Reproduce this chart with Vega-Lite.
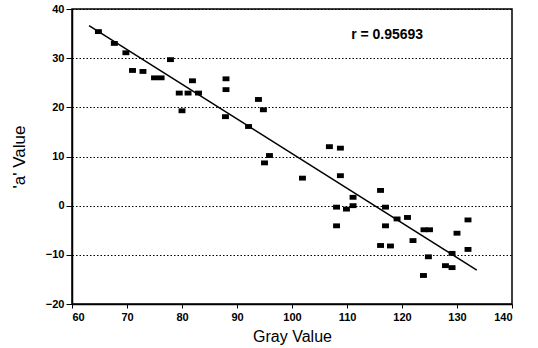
{
  "$schema": "https://vega.github.io/schema/vega-lite/v6.json",
  "width": 440,
  "height": 295,
  "autosize": {"type": "none"},
  "padding": {"left": 72, "top": 9, "right": 26, "bottom": 44},
  "background": "white",
  "config": {
    "view": {"stroke": "black", "strokeWidth": 1.5},
    "axis": {
      "labelFont": "Liberation Sans",
      "labelFontWeight": "bold",
      "labelFontSize": 11,
      "labelColor": "black",
      "titleFont": "Liberation Sans",
      "titleFontWeight": "normal",
      "titleFontSize": 16,
      "titleColor": "black",
      "domainColor": "black",
      "domainWidth": 1.5,
      "tickColor": "black",
      "tickWidth": 1
    }
  },
  "datasets": {
    "pts": [
      {"gray": 64.8, "a": 35.4},
      {"gray": 67.7, "a": 33.0},
      {"gray": 69.8, "a": 31.1},
      {"gray": 71.0, "a": 27.5},
      {"gray": 72.9, "a": 27.3},
      {"gray": 75.0, "a": 26.0},
      {"gray": 76.2, "a": 26.0},
      {"gray": 77.9, "a": 29.7},
      {"gray": 79.5, "a": 22.9},
      {"gray": 81.1, "a": 22.9},
      {"gray": 83.0, "a": 22.9},
      {"gray": 81.9, "a": 25.4},
      {"gray": 80.0, "a": 19.3},
      {"gray": 88.0, "a": 25.8},
      {"gray": 88.0, "a": 23.6},
      {"gray": 87.9, "a": 18.1},
      {"gray": 93.9, "a": 21.6},
      {"gray": 94.8, "a": 19.5},
      {"gray": 92.1, "a": 16.1},
      {"gray": 95.0, "a": 8.7},
      {"gray": 95.9, "a": 10.2},
      {"gray": 101.9, "a": 5.6},
      {"gray": 106.8, "a": 12.0},
      {"gray": 108.8, "a": 11.7},
      {"gray": 108.8, "a": 6.1},
      {"gray": 116.1, "a": 3.1},
      {"gray": 111.1, "a": 1.7},
      {"gray": 108.1, "a": -0.3},
      {"gray": 109.9, "a": -0.7},
      {"gray": 111.1, "a": 0.0},
      {"gray": 117.0, "a": -0.3},
      {"gray": 108.1, "a": -4.1},
      {"gray": 117.0, "a": -4.1},
      {"gray": 119.1, "a": -2.7},
      {"gray": 121.0, "a": -2.4},
      {"gray": 132.0, "a": -2.9},
      {"gray": 124.0, "a": -4.9},
      {"gray": 125.0, "a": -4.9},
      {"gray": 130.0, "a": -5.6},
      {"gray": 122.0, "a": -7.1},
      {"gray": 116.1, "a": -8.1},
      {"gray": 117.9, "a": -8.2},
      {"gray": 132.0, "a": -8.9},
      {"gray": 124.8, "a": -10.4},
      {"gray": 127.9, "a": -12.2},
      {"gray": 129.1, "a": -12.6},
      {"gray": 129.1, "a": -9.7},
      {"gray": 123.9, "a": -14.2}
    ],
    "fit": [
      {"gray": 63.1, "a": 36.6},
      {"gray": 133.6, "a": -13.1}
    ],
    "note": [
      {"gray": 117.3, "a": 34.7, "label": "r = 0.95693"}
    ]
  },
  "layer": [
    {
      "data": {"name": "pts"},
      "mark": {"type": "point", "filled": true, "color": "black", "opacity": 1,
               "shape": "M-1,-0.7L1,-0.7L1,0.7L-1,0.7Z", "size": 48},
      "encoding": {
        "x": {"field": "gray", "type": "quantitative",
              "scale": {"domain": [60, 140], "nice": false, "zero": false},
              "axis": {"title": "Gray Value", "values": [60,70,80,90,100,110,120,130,140],
                       "grid": false, "tickSize": 4, "labelPadding": 3, "titlePadding": 6}},
        "y": {"field": "a", "type": "quantitative",
              "scale": {"domain": [-20, 40], "nice": false, "zero": false},
              "axis": {"title": "'a' Value", "values": [-20,-10,0,10,20,30,40],
                       "grid": true, "gridDash": [1.5, 2], "gridColor": "black", "gridWidth": 1,
                       "tickSize": 6, "labelPadding": 2, "titlePadding": 17, "titleFontSize": 17}}
      }
    },
    {
      "data": {"name": "fit"},
      "mark": {"type": "line", "color": "black", "strokeWidth": 1.5},
      "encoding": {
        "x": {"field": "gray", "type": "quantitative"},
        "y": {"field": "a", "type": "quantitative"}
      }
    },
    {
      "data": {"name": "note"},
      "mark": {"type": "text", "font": "Liberation Sans", "fontWeight": "bold", "fontSize": 14, "color": "black", "align": "center"},
      "encoding": {
        "x": {"field": "gray", "type": "quantitative"},
        "y": {"field": "a", "type": "quantitative"},
        "text": {"field": "label"}
      }
    }
  ]
}
